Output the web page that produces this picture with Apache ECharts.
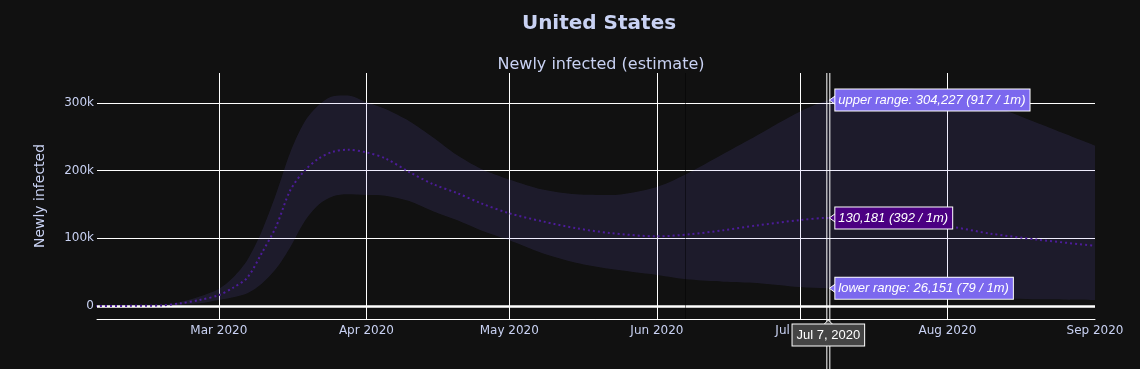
<!DOCTYPE html>
<html><head><meta charset="utf-8">
<script src="https://cdn.jsdelivr.net/npm/echarts@6/dist/echarts.min.js"></script>
<style>html,body{margin:0;padding:0;background:#111111;}#c{width:1140px;height:369px;}</style>
</head><body><div id="c"></div>
<script>
// ---- data (values in thousands) ----
const dates = ['2020-02-04','2020-02-11','2020-02-18','2020-02-22','2020-02-26','2020-03-01','2020-03-04','2020-03-07','2020-03-10','2020-03-13','2020-03-16','2020-03-19','2020-03-22','2020-03-25','2020-03-28','2020-04-01','2020-04-05','2020-04-10','2020-04-15','2020-04-20','2020-04-25','2020-05-01','2020-05-08','2020-05-15','2020-05-22','2020-06-01','2020-06-08','2020-06-15','2020-06-22','2020-07-01','2020-07-07','2020-07-15','2020-07-22','2020-08-01','2020-08-10','2020-08-20','2020-09-01'];
const upperK  = [0,0.2,1,6,14,25,42,68,110,165,227,272,297,310,311,301,291,273,249,223,203,187,172,165,164,176,198,225,252,287,304.227,318,322,313,297,270,237];
const medianK = [0,0.2,0.8,4,9,16,27,42,78,117,171,200,218,228,231,227,218,198,180,167,152,137,125,115,108,103,106,112,119,127,130.181,128,124,118,107,98,89];
const lowerK  = [0,0,0.5,2,4,9,13,19,33,55,87,125,150,162,165,164,163,155,140,127,112,97,78,64,55,46,39,36,34,28,26.151,22,18,15,12,10,9];
const hoverDate = '2020-07-07';
const hoverLabels = ['upper range: 304,227 (917 / 1m)','130,181 (392 / 1m)','lower range: 26,151 (79 / 1m)'];
const hoverDateLabel = 'Jul 7, 2020';
const markerDate = '2020-06-07';
const xMin = '2020-02-04 10:00';
const xMax = '2020-09-01';
const yMin = -19200, yMax = 344300;
const monthNames = ['Jan','Feb','Mar','Apr','May','Jun','Jul','Aug','Sep','Oct','Nov','Dec'];

const ts = d => echarts.time.parse(d).getTime();
const lowerData = dates.map((d,i)=>[d, lowerK[i]*1000]);
const bandData  = dates.map((d,i)=>[d, (upperK[i]-lowerK[i])*1000]);
const medianData= dates.map((d,i)=>[d, medianK[i]*1000]);

const textColor = '#c9d2f3';
const chart = echarts.init(document.getElementById('c'), null, {renderer:'canvas'});
const option = {
  backgroundColor:'#111111',
  animation:false,
  title:[
    {text:'United States', left:594, top:9, textAlign:'center',
     textStyle:{fontFamily:'DejaVu Sans', fontSize:20, fontWeight:'bold', color:textColor}},
    {text:'Newly infected (estimate)', left:596, top:52, textAlign:'center',
     textStyle:{fontFamily:'DejaVu Sans', fontSize:16, fontWeight:'normal', color:textColor}}
  ],
  grid:{left:97, right:45, top:73, bottom:50, containLabel:false},
  xAxis:{
    type:'time', min:ts(xMin), max:ts(xMax),
    minInterval:28*86400000, maxInterval:31*86400000, splitNumber:8,
    axisLine:{show:true, onZero:false, lineStyle:{color:'#ffffff', width:1}},
    axisTick:{show:false},
    axisLabel:{color:textColor, fontFamily:'DejaVu Sans', fontSize:12, margin:6,
      showMinLabel:false, showMaxLabel:true, hideOverlap:false,
      formatter:(v)=>{const d=new Date(v); return monthNames[d.getMonth()]+' '+d.getFullYear();}},
    splitLine:{show:true, showMinLine:false, showMaxLine:false, lineStyle:{color:'#ffffff', width:1}}
  },
  yAxis:{
    type:'value', min:yMin, max:yMax,
    name:'Newly infected', nameLocation:'middle', nameGap:50, nameRotate:90,
    nameTextStyle:{color:textColor, fontFamily:'DejaVu Sans', fontSize:14},
    axisLine:{show:false}, axisTick:{show:false},
    axisLabel:{color:textColor, fontFamily:'DejaVu Sans', fontSize:12, margin:3,
      showMinLabel:false, showMaxLabel:false,
      formatter:(v)=> v===0 ? '0' : (v/1000)+'k'},
    splitLine:{show:true, showMinLine:false, showMaxLine:false, lineStyle:{color:'#ffffff', width:1}}
  },
  series:[
    {name:'lower', type:'line', stack:'band', data:lowerData, smooth:0.3, symbol:'none',
     lineStyle:{width:0, opacity:0}, silent:true,
     markLine:{silent:true, symbol:'none', label:{show:false},
       data:[{yAxis:0, lineStyle:{color:'#ffffff', width:2.5, type:'solid'}},
             {xAxis:ts(markerDate), lineStyle:{color:'#000000', width:1, type:'solid', opacity:0.45}}]}},
    {name:'band', type:'line', stack:'band', data:bandData, smooth:0.3, symbol:'none',
     lineStyle:{width:0, opacity:0}, areaStyle:{color:'rgba(123,104,238,0.12)', opacity:1}, silent:true},
    {name:'median', type:'line', data:medianData, smooth:0.3, symbol:'none', z:5,
     lineStyle:{color:'#4c1c99', width:2, type:[2,3]}}
  ]
};
chart.setOption(option);

// hover annotations placed through the chart's scales
const hi = dates.indexOf(hoverDate);
const hx = ts(hoverDate);
const vals = [upperK[hi]*1000, medianK[hi]*1000, lowerK[hi]*1000];
const fills = ['#7b68ee','#4b0082','#7b68ee'];
const gfx = [];
const topPx = chart.convertToPixel({yAxisIndex:0}, yMax);
const botPx = chart.convertToPixel({yAxisIndex:0}, yMin);
const xPx = chart.convertToPixel({xAxisIndex:0}, hx);
[-1.5,1.5].forEach(o=>gfx.push({type:'line', z:50, shape:{x1:xPx+o,y1:topPx,x2:xPx+o,y2:369}, style:{stroke:'#ffffff', lineWidth:1}}));
vals.forEach((v,i)=>{
  const p = chart.convertToPixel({xAxisIndex:0, yAxisIndex:0}, [hx, v]);
  const x0 = p[0]+1, y0 = p[1];
  gfx.push({type:'polygon', z:60, shape:{points:[[x0,y0],[x0+7,y0-5],[x0+7,y0+5]]}, style:{fill:fills[i], stroke:'#ffffff', lineWidth:1}});
  gfx.push({type:'text', z:61, x:x0+6, y:y0, style:{text:hoverLabels[i], fill:'#ffffff',
    font:'italic 13px "Liberation Sans", Arial, sans-serif', align:'left', verticalAlign:'middle',
    backgroundColor:fills[i], borderColor:'#ffffff', borderWidth:1, padding:[4,4,4,3]}});
});
gfx.push({type:'polygon', z:60, shape:{points:[[xPx,botPx+1],[xPx-6,botPx+7],[xPx+6,botPx+7]]}, style:{fill:'#444444', stroke:'#ffffff', lineWidth:1}});
gfx.push({type:'text', z:61, x:xPx, y:botPx+16, style:{text:hoverDateLabel, fill:'#ffffff',
  font:'13px "Liberation Sans", Arial, sans-serif', align:'center', verticalAlign:'middle',
  backgroundColor:'#444444', borderColor:'#ffffff', borderWidth:1, padding:[4,4,4,4]}});
chart.setOption({graphic:{elements:gfx}});
</script></body></html>
